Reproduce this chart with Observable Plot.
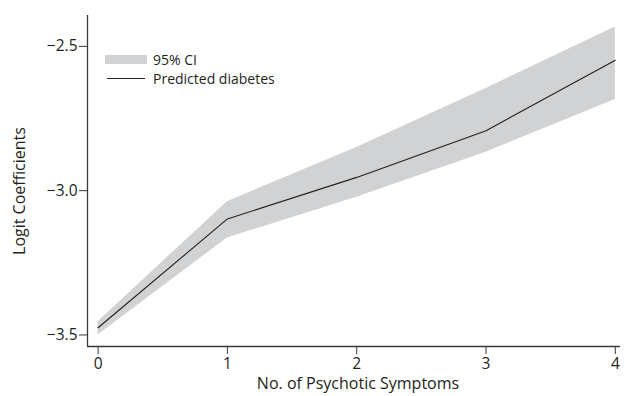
<!DOCTYPE html>
<html><head><meta charset="utf-8">
<script src="https://cdn.jsdelivr.net/npm/d3@7"></script>
<script src="https://cdn.jsdelivr.net/npm/@observablehq/plot@0.6"></script>
<style>
body{margin:0;background:#fff;}
#wrap{position:relative;width:625px;height:396px;font-family:"Open Sans",sans-serif;}
.leg{position:absolute;left:105px;font-size:14px;line-height:19px;color:#231f20;display:flex;align-items:center;}
.sw{width:42px;height:9px;background:#d1d2d4;margin-right:6px;}
.ln{width:38px;height:0;border-top:1.2px solid #231f20;margin:0 8px 0 2px;}
</style></head>
<body><div id="wrap"></div>
<script>
const symptoms = [0, 1, 2, 3, 4];
const predicted = [-3.475, -3.098, -2.954, -2.792, -2.548];
const ciLower = [-3.500, -3.164, -3.023, -2.867, -2.684];
const ciUpper = [-3.454, -3.038, -2.850, -2.646, -2.433];
const yTicks = [-3.5, -3.0, -2.5];
const xTicks = [0, 1, 2, 3, 4];
const legendLabels = ["95% CI", "Predicted diabetes"];

const data = symptoms.map((x, i) => ({x, y: predicted[i], lo: ciLower[i], hi: ciUpper[i]}));
const xDomain = [-0.082, 4.04];
const yDomain = [-3.54, -2.393];
const ink = "#231f20";

const chart = Plot.plot({
  width: 625, height: 396,
  marginLeft: 87, marginTop: 15, marginBottom: 50, marginRight: 5,
  style: {fontFamily: "Open Sans, sans-serif", fontSize: "15px", color: ink, background: "#fff"},
  x: {domain: xDomain},
  y: {domain: yDomain},
  marks: [
    Plot.areaY(data, {x: "x", y1: "lo", y2: "hi", fill: "#d1d2d4"}),
    Plot.lineY(data, {x: "x", y: "y", stroke: ink, strokeWidth: 1.1}),
    Plot.ruleX([xDomain[0]], {stroke: "#3a3a3a", strokeWidth: 1.3}),
    Plot.ruleY([yDomain[0]], {stroke: "#3a3a3a", strokeWidth: 1.3}),
    Plot.axisY(yTicks, {tickFormat: d3.format(".1f"), tickSize: 8, tickPadding: 2, fontSize: 15.5,
      label: null, stroke: "#3a3a3a"}),
    Plot.axisX(xTicks, {tickFormat: d3.format("d"), tickSize: 8, tickPadding: 3, fontSize: 15.5,
      label: null, stroke: "#3a3a3a"}),
    Plot.text(["Logit Coefficients"], {frameAnchor: "left", dx: -68, dy: 10, rotate: -90, text: d => d,
      fontSize: 16, fill: ink, textAnchor: "middle"}),
    Plot.text(["No. of Psychotic Symptoms"], {frameAnchor: "bottom", dy: 42, dx: 4, text: d => d,
      fontSize: 16, fill: ink, textAnchor: "middle"})
  ]
});
const wrap = document.getElementById("wrap");
wrap.appendChild(chart);
const l1 = document.createElement("div");
l1.className = "leg"; l1.style.top = "50px";
l1.innerHTML = `<span class="sw"></span><span>${legendLabels[0]}</span>`;
const l2 = document.createElement("div");
l2.className = "leg"; l2.style.top = "69px";
l2.innerHTML = `<span class="ln"></span><span>${legendLabels[1]}</span>`;
wrap.appendChild(l1); wrap.appendChild(l2);
</script></body></html>
